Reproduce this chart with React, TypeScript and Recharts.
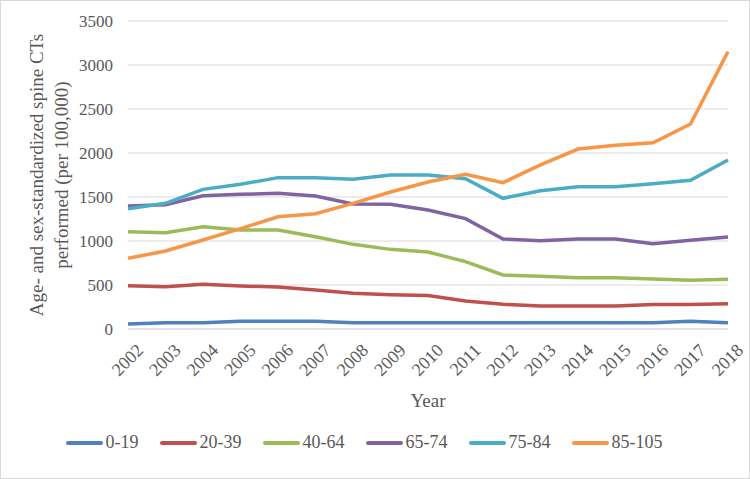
import React from "react";
import {
  LineChart,
  Line,
  XAxis,
  YAxis,
  CartesianGrid,
  Legend,
} from "recharts";

const YEARS = [
  "2002", "2003", "2004", "2005", "2006", "2007", "2008", "2009", "2010",
  "2011", "2012", "2013", "2014", "2015", "2016", "2017", "2018",
];
const AGE_0_19 = [57, 72, 72, 87, 87, 87, 72, 72, 72, 72, 72, 72, 72, 72, 72, 87, 72];
const AGE_20_39 = [492, 481, 508, 489, 477, 443, 405, 390, 380, 318, 280, 261, 261, 261, 277, 277, 288];
const AGE_40_64 = [1106, 1095, 1163, 1125, 1125, 1049, 962, 905, 875, 765, 614, 599, 583, 583, 568, 553, 564];
const AGE_65_74 = [1398, 1413, 1515, 1530, 1542, 1511, 1420, 1417, 1352, 1254, 1023, 1004, 1023, 1023, 970, 1008, 1045];
const AGE_75_84 = [1367, 1428, 1587, 1644, 1720, 1720, 1701, 1750, 1750, 1708, 1485, 1572, 1617, 1617, 1651, 1689, 1920];
const AGE_85_105 = [803, 886, 1011, 1140, 1276, 1310, 1428, 1557, 1670, 1758, 1663, 1864, 2045, 2087, 2117, 2330, 3152];
const Y_TICKS = [0, 500, 1000, 1500, 2000, 2500, 3000, 3500];

const SERIES = [
  { key: "0-19", values: AGE_0_19, color: "#4F81BD" },
  { key: "20-39", values: AGE_20_39, color: "#C0504D" },
  { key: "40-64", values: AGE_40_64, color: "#9BBB59" },
  { key: "65-74", values: AGE_65_74, color: "#8064A2" },
  { key: "75-84", values: AGE_75_84, color: "#4BACC6" },
  { key: "85-105", values: AGE_85_105, color: "#F79646" },
];

const data = YEARS.map((year, i) => {
  const row: Record<string, string | number> = { year };
  SERIES.forEach((s) => (row[s.key] = s.values[i]));
  return row;
});

const FONT = "'Liberation Serif', serif";
const TEXT = "#595959";

// rotated year labels, top-right end sits just right of the category
function YearTick({ x, y, payload }: any) {
  return (
    <g transform={`translate(${x + 12},${y + 10})`}>
      <text
        textAnchor="end"
        transform="rotate(-45)"
        dy="0.35em"
        fill={TEXT}
        fontSize={18}
        fontFamily={FONT}
      >
        {payload.value}
      </text>
    </g>
  );
}

function YTitle({ viewBox }: any) {
  const cy = viewBox.y + viewBox.height / 2;
  return (
    <g fill={TEXT} fontSize={19} fontFamily={FONT}>
      <text transform={`translate(43,${cy}) rotate(-90)`} textAnchor="middle">
        Age- and sex-standardized spine CTs
      </text>
      <text transform={`translate(68,${cy}) rotate(-90)`} textAnchor="middle">
        performed (per 100,000)
      </text>
    </g>
  );
}

function LegendRow() {
  return (
    <div
      style={{
        height: 60,
        display: "flex",
        justifyContent: "center",
        alignItems: "flex-start",
        paddingTop: 13,
        boxSizing: "border-box",
        fontFamily: FONT,
        fontSize: 18,
        color: TEXT,
        gap: 21,
      }}
    >
      {SERIES.map((s) => (
        <div key={s.key} style={{ display: "flex", alignItems: "center" }}>
          <span
            style={{
              display: "inline-block",
              width: 37,
              height: 4,
              borderRadius: 2,
              background: s.color,
              marginRight: 3,
            }}
          />
          <span>{s.key}</span>
        </div>
      ))}
    </div>
  );
}

export default function App() {
  return (
    <div
      style={{
        position: "absolute",
        left: 0,
        top: 0,
        width: 750,
        height: 479,
        background: "#fff",
      }}
    >
      <LineChart
        width={750}
        height={479}
        data={data}
        margin={{ top: 21, right: 22, left: 0, bottom: 0 }}
      >
        <CartesianGrid vertical={false} stroke="#d9d9d9" strokeWidth={1} />
        <XAxis
          dataKey="year"
          height={90}
          axisLine={{ stroke: "#d9d9d9" }}
          tickLine={false}
          interval={0}
          tick={<YearTick />}
          label={{
            value: "Year",
            position: "insideBottom",
            offset: 12,
            fill: TEXT,
            fontSize: 19,
            fontFamily: FONT,
          }}
        />
        <YAxis
          width={128}
          domain={[0, 3500]}
          ticks={Y_TICKS}
          axisLine={false}
          tickLine={false}
          tickSize={0}
          tickMargin={15}
          tick={{ fill: TEXT, fontSize: 17, fontFamily: FONT }}
          label={<YTitle />}
        />
        <Legend verticalAlign="bottom" height={60} content={<LegendRow />} />
        {SERIES.map((s) => (
          <Line
            key={s.key}
            dataKey={s.key}
            stroke={s.color}
            strokeWidth={3.5}
            dot={false}
            type="linear"
            isAnimationActive={false}
          />
        ))}
      </LineChart>
      <div
        style={{
          position: "absolute",
          inset: 0,
          border: "1px solid #d9d9d9",
          pointerEvents: "none",
        }}
      />
    </div>
  );
}
